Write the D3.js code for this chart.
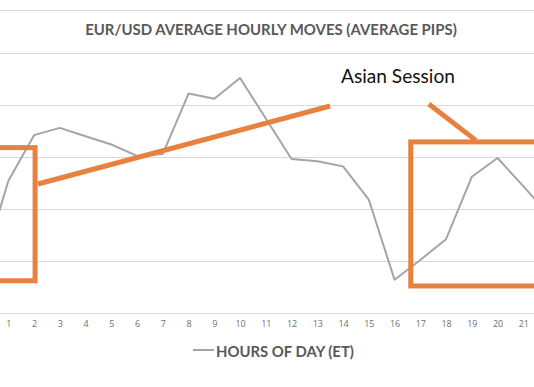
<!DOCTYPE html>
<html>
<head>
<meta charset="utf-8">
<script src="https://cdn.jsdelivr.net/npm/d3@7"></script>
<style>
  body { margin: 0; background: #fff; }
  svg { display: block; }
  .tick text { font-family: "Open Sans", sans-serif; fill: #6f6f6f; }
</style>
</head>
<body>
<script>
var width = 534, height = 387;

// hours of day (ET) and average pips per hour
var hours = [0, 1, 2, 3, 4, 5, 6, 7, 8, 9, 10, 11, 12, 13, 14, 15, 16, 17, 18, 19, 20, 21, 22];
var pips = [4.4, 12.7, 17.1, 17.8, 17.0, 16.2, 15.1, 15.3, 21.1, 20.6, 22.6, 18.7,
            14.8, 14.6, 14.1, 10.9, 3.2, 5.1, 7.1, 13.1, 14.9, 12.2, 9.4];
var tickHours = [1, 2, 3, 4, 5, 6, 7, 8, 9, 10, 11, 12, 13, 14, 15, 16, 17, 18, 19, 20, 21];
var gridValues = [0, 5, 10, 15, 20, 25];

// orange annotations, in (hour, pips)
var leftBox = { x0: -1, x1: 2.04, top: 15.9, bottom: 3.1 };
var rightBox = { x0: 16.63, x1: 23, top: 16.45, bottom: 2.6 };
var trendLine = [[2.15, 12.4], [13.5, 19.9]];
var pointer = [[17.33, 20.1], [19.16, 16.6]];

var titleText = "EUR/USD AVERAGE HOURLY MOVES (AVERAGE PIPS)";
var noteText = "Asian Session";
var legendText = "HOURS OF DAY (ET)";

var x = d3.scaleLinear().domain([1, 21]).range([8.3, 523.3]);
var y = d3.scaleLinear().domain([0, 25]).range([313, 53]);

var svg = d3.select("body").append("svg")
        .attr("width", width)
        .attr("height", height);

// chart top border
svg.append("line")
        .attr("x1", 0).attr("x2", width)
        .attr("y1", 10.5).attr("y2", 10.5)
        .attr("stroke", "#d9d9d9");

svg.append("g")
        .attr("class", "grid")
        .selectAll("line").data(gridValues)
        .enter().append("line")
        .attr("x1", 0).attr("x2", width)
        .attr("y1", function(d) { return Math.round(y(d)) + 0.5; })
        .attr("y2", function(d) { return Math.round(y(d)) + 0.5; })
        .attr("stroke", "#d9d9d9");

var xAxis = d3.axisBottom(x)
        .tickValues(tickHours)
        .tickSize(0)
        .tickPadding(8)
        .tickFormat(d3.format("d"));

svg.append("g")
        .attr("class", "x axis")
        .attr("transform", "translate(0," + y(0) + ")")
        .call(xAxis)
        .call(function(g) { g.select(".domain").remove(); })
        .selectAll("text")
        .style("font-size", "9px");

function fitText(sel, w) {
    var len = sel.node().getComputedTextLength();
    var fs = parseFloat(sel.style("font-size"));
    sel.style("font-size", (fs * w / len) + "px");
}

var title = svg.append("text")
        .attr("x", 271)
        .attr("y", 35)
        .attr("text-anchor", "middle")
        .style("font-family", "Lato, sans-serif")
        .style("font-weight", "bold")
        .style("font-size", "14px")
        .style("fill", "#595959")
        .text(titleText);
fitText(title, 372);

var line = d3.line()
        .x(function(d, i) { return x(hours[i]); })
        .y(function(d) { return y(d); });

svg.append("path")
        .datum(pips)
        .attr("fill", "none")
        .attr("stroke", "#a5a5a5")
        .attr("stroke-width", 2)
        .attr("stroke-linejoin", "round")
        .attr("d", line);

// annotations
var orange = "#e8813f";
[leftBox, rightBox].forEach(function(b) {
    svg.append("rect")
        .attr("x", x(b.x0))
        .attr("y", y(b.top))
        .attr("width", x(b.x1) - x(b.x0))
        .attr("height", y(b.bottom) - y(b.top))
        .attr("fill", "none")
        .attr("stroke", orange)
        .attr("stroke-width", 5);
});

var seg = d3.line()
        .x(function(d) { return x(d[0]); })
        .y(function(d) { return y(d[1]); });

[trendLine, pointer].forEach(function(p) {
    svg.append("path")
        .attr("d", seg(p))
        .attr("fill", "none")
        .attr("stroke", orange)
        .attr("stroke-width", 5);
});

var note = svg.append("text")
        .attr("x", 341)
        .attr("y", 83)
        .style("font-family", "Lato, sans-serif")
        .style("font-size", "17px")
        .style("fill", "#111")
        .text(noteText);
fitText(note, 114);

// legend
svg.append("line")
        .attr("x1", 193).attr("x2", 214)
        .attr("y1", 350).attr("y2", 350)
        .attr("stroke", "#a5a5a5")
        .attr("stroke-width", 2);

var legend = svg.append("text")
        .attr("x", 216)
        .attr("y", 357)
        .style("font-family", "Lato, sans-serif")
        .style("font-weight", "bold")
        .style("font-size", "15px")
        .style("fill", "#595959")
        .text(legendText);
fitText(legend, 138);
</script>
</body>
</html>
